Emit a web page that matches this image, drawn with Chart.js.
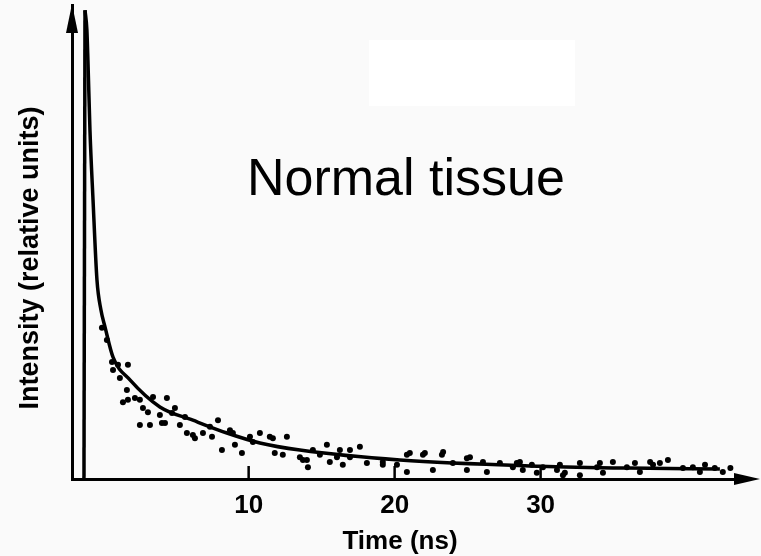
<!DOCTYPE html>
<html>
<head>
<meta charset="utf-8">
<script src="https://cdn.jsdelivr.net/npm/chart.js@4/dist/chart.umd.min.js"></script>
<style>
  html, body { margin: 0; padding: 0; background: #fafafa; }
  canvas { display: block; }
</style>
</head>
<body>
<canvas id="decayChart" width="761" height="556"></canvas>
<script>
// time axis (ns) and intensity (relative units)
const xTicks = [10, 20, 30];

// excitation pulse (rising edge)
const riseTime = [-1.28, -1.21];
const riseIntensity = [0, 98.9];

// fitted decay curve
const fitTime = [-1.21, -1.08, -1.01, -0.87, -0.66, -0.39, -0.12, 0.16, 0.71, 1.87, 3.92, 6.18, 8.51, 10.77, 13.51, 20.36, 29.95, 36.0, 42.28];
const fitIntensity = [98.9, 94.7, 88.4, 73.6, 58.9, 42.0, 35.7, 32.1, 25.7, 20.9, 15.2, 12.4, 9.7, 7.6, 6.1, 4.0, 2.7, 2.3, 2.1];

// measured photon counts
const pointTime = [
  -0.05, 0.29, 0.64, 0.71, 1.05, 1.18, 1.39, 1.66, 1.73, 1.73,
  2.21, 2.55, 2.55, 2.76, 3.10, 3.24, 3.45, 3.92, 4.06, 4.27,
  4.40, 4.75, 4.95, 5.29, 5.64, 5.77, 6.18, 6.32, 6.87, 7.35,
  7.49, 7.90, 8.17, 8.72, 8.92, 9.06, 9.54, 10.09, 10.29, 10.77,
  11.45, 11.66, 11.79, 12.34, 12.62, 13.51, 13.72, 13.99, 14.06, 14.40,
  14.88, 15.36, 15.56, 16.05, 16.25, 16.45, 16.94, 16.94, 17.62, 18.10,
  19.19, 19.19, 20.16, 20.84, 20.84, 21.04, 21.94, 22.07, 22.62, 23.24,
  23.32, 23.99, 24.95, 24.95, 25.16, 26.05, 26.32, 27.21, 28.10, 28.37,
  28.58, 28.78, 29.40, 29.74, 30.16, 31.12, 31.32, 31.53, 31.66, 32.69,
  32.69, 33.86, 34.06, 34.27, 34.95, 35.91, 36.46, 36.80, 37.50, 37.70,
  38.17, 38.72, 39.75, 40.43, 40.91, 41.26, 41.93, 42.48, 43.00
];
const pointIntensity = [
  31.9, 29.3, 24.7, 23.0, 24.1, 21.3, 16.2, 18.8, 24.1, 16.7,
  17.1, 16.7, 11.4, 15.0, 14.1, 11.4, 17.3, 13.5, 11.8, 11.8,
  17.1, 13.9, 15.0, 11.4, 13.1, 9.7, 9.3, 8.6, 9.7, 11.0,
  8.9, 12.4, 6.1, 10.3, 9.7, 7.2, 5.5, 8.9, 7.8, 9.7,
  8.9, 8.6, 5.5, 5.1, 8.9, 4.6, 4.0, 4.0, 2.5, 6.1,
  5.1, 7.2, 3.6, 4.6, 6.1, 3.0, 6.1, 4.6, 6.8, 3.4,
  3.6, 3.0, 3.0, 5.1, 1.5, 5.5, 5.1, 5.5, 1.9, 5.1,
  5.7, 3.4, 4.4, 1.9, 4.6, 3.6, 1.5, 3.4, 2.5, 3.4,
  3.6, 1.9, 3.0, 1.3, 2.5, 1.9, 3.0, 0.8, 1.3, 3.4,
  0.8, 2.5, 3.4, 1.3, 3.6, 2.5, 3.4, 1.5, 3.6, 3.0,
  3.4, 4.0, 2.3, 2.5, 1.5, 3.0, 2.3, 1.5, 2.3
];

const toXY = (xs, ys) => xs.map((x, i) => ({ x: x, y: ys[i] }));

// =========================
// background, arrows, labels
// =========================
const decor = {
  id: "decor",
  beforeDraw(chart) {
    const ctx = chart.ctx;
    ctx.save();
    ctx.fillStyle = "#fafafa";
    ctx.fillRect(0, 0, chart.width, chart.height);
    ctx.fillStyle = "#ffffff";
    ctx.fillRect(369, 40, 206, 66);
    ctx.restore();
  },
  afterDraw(chart) {
    const ctx = chart.ctx;
    const area = chart.chartArea;
    const xScale = chart.scales.x;
    ctx.save();
    ctx.strokeStyle = "#000";
    ctx.fillStyle = "#000";

    // x axis runs on past the plot into an arrow
    ctx.lineWidth = 3;
    ctx.beginPath();
    ctx.moveTo(area.right, area.bottom);
    ctx.lineTo(748, area.bottom);
    ctx.stroke();
    ctx.beginPath();
    ctx.moveTo(760, area.bottom);
    ctx.lineTo(734, area.bottom - 6);
    ctx.lineTo(734, area.bottom + 6);
    ctx.closePath();
    ctx.fill();

    // y axis arrow
    ctx.beginPath();
    ctx.moveTo(area.left, 4);
    ctx.lineTo(area.left - 6, 33);
    ctx.lineTo(area.left + 6, 33);
    ctx.closePath();
    ctx.fill();

    // tick marks standing inside the plot
    ctx.lineWidth = 2.5;
    xTicks.forEach((v) => {
      const px = xScale.getPixelForValue(v);
      ctx.beginPath();
      ctx.moveTo(px, area.bottom);
      ctx.lineTo(px, area.bottom - 13);
      ctx.stroke();
    });

    // axis titles
    ctx.font = 'bold 26px "Liberation Sans"';
    ctx.textAlign = "center";
    ctx.textBaseline = "middle";
    ctx.fillText("Time (ns)", 400, 542);

    ctx.save();
    ctx.translate(31, 258);
    ctx.rotate(-Math.PI / 2);
    ctx.font = 'bold 27px "Liberation Sans"';
    ctx.fillText("Intensity (relative units)", 0, 0);
    ctx.restore();

    // annotation
    ctx.font = '52px "Liberation Sans"';
    ctx.textAlign = "left";
    ctx.textBaseline = "alphabetic";
    ctx.fillText("Normal tissue", 247, 195);
    ctx.restore();
  },
};

const ctx = document.getElementById("decayChart");

new Chart(ctx, {
  type: "scatter",
  data: {
    datasets: [
      {
        label: "Counts",
        data: toXY(pointTime, pointIntensity),
        pointRadius: 3,
        pointBackgroundColor: "#000",
        pointBorderWidth: 0,
        showLine: false,
      },
      {
        label: "Fit",
        data: toXY(fitTime, fitIntensity),
        showLine: true,
        borderColor: "#000",
        borderWidth: 3.5,
        pointRadius: 0,
        cubicInterpolationMode: "monotone",
      },
      {
        label: "Pulse",
        data: toXY(riseTime, riseIntensity),
        showLine: true,
        borderColor: "#000",
        borderWidth: 3.5,
        pointRadius: 0,
      },
    ],
  },
  options: {
    responsive: false,
    animation: false,
    devicePixelRatio: 1,
    layout: { padding: { top: 5, right: 16, left: 0, bottom: 0 } },
    plugins: {
      legend: { display: false },
      tooltip: { enabled: false },
    },
    scales: {
      x: {
        type: "linear",
        min: -2.1,
        max: 44,
        grid: { display: false, drawTicks: false },
        border: { display: true, color: "#000", width: 3 },
        afterBuildTicks: (scale) => {
          scale.ticks = xTicks.map((v) => ({ value: v }));
        },
        afterFit: (scale) => {
          scale.height = 77;
        },
        ticks: {
          color: "#000",
          padding: 11,
          maxRotation: 0,
          font: { family: "Liberation Sans", weight: "bold", size: 26 },
        },
      },
      y: {
        min: 0,
        max: 100,
        grid: { display: false, drawTicks: false },
        border: { display: true, color: "#000", width: 3 },
        ticks: { display: false },
        afterFit: (scale) => {
          scale.width = 72;
        },
      },
    },
  },
  plugins: [decor],
});
</script>
</body>
</html>
